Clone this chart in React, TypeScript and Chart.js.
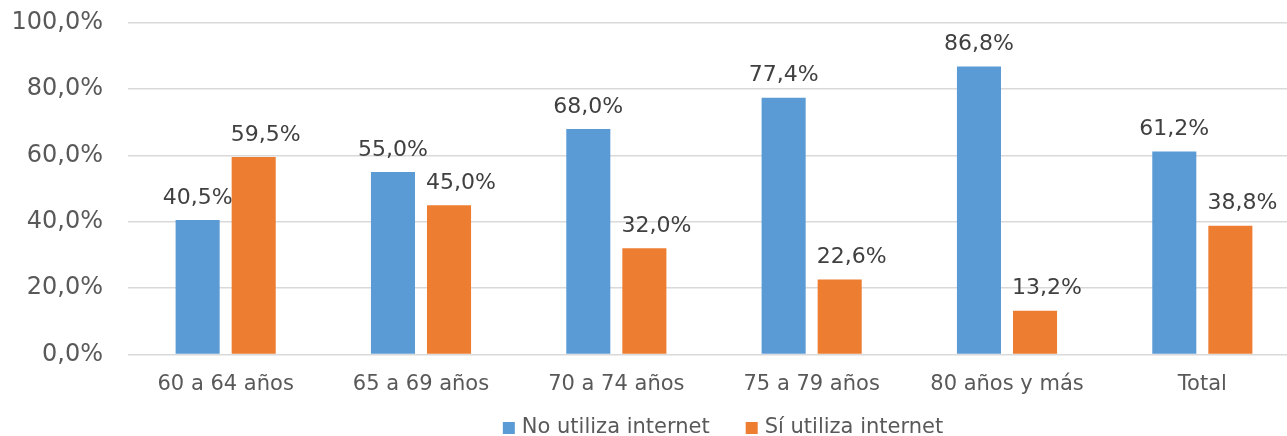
import React, { useEffect, useRef } from "react";
import { Chart, registerables } from "chart.js";

Chart.register(...registerables);

const categories = ["60 a 64 años", "65 a 69 años", "70 a 74 años", "75 a 79 años", "80 años y más", "Total"];
const noUtiliza = [40.5, 55.0, 68.0, 77.4, 86.8, 61.2];
const siUtiliza = [59.5, 45.0, 32.0, 22.6, 13.2, 38.8];
const seriesNames = ["No utiliza internet", "Sí utiliza internet"];
const seriesColors = ["#5B9BD5", "#ED7D31"];
const yMin = 0;
const yMax = 100;
const yStep = 20;

const FONT = "'DejaVu Sans', Verdana, sans-serif";

const fmt = (v: number) => v.toFixed(1).replace(".", ",") + "%";

const dataLabelPlugin = {
  id: "dataLabels",
  afterDatasetsDraw(chart: any) {
    const ctx = chart.ctx;
    ctx.save();
    ctx.font = `22px ${FONT}`;
    ctx.fillStyle = "#404040";
    ctx.textAlign = "center";
    ctx.textBaseline = "middle";
    chart.data.datasets.forEach((ds: any, di: number) => {
      const meta = chart.getDatasetMeta(di);
      meta.data.forEach((bar: any, i: number) => {
        const shift = di === 1 ? 12 : 0;
        ctx.fillText(fmt(ds.data[i]), bar.x + shift, bar.y - 22);
      });
    });
    ctx.restore();
  },
};

const legendPlugin = {
  id: "customLegend",
  afterDraw(chart: any) {
    const ctx = chart.ctx;
    const { chartArea } = chart;
    ctx.save();
    ctx.font = `21px ${FONT}`;
    ctx.textBaseline = "middle";
    ctx.textAlign = "left";
    const box = 12;
    const gapBoxText = 7;
    const gapItems = 36;
    const widths = seriesNames.map((n) => ctx.measureText(n).width);
    const total = widths.reduce((a, w) => a + box + gapBoxText + w, 0) + gapItems * (seriesNames.length - 1);
    let x = (chartArea.left + chartArea.right) / 2 + 9 - total / 2;
    const y = 428;
    seriesNames.forEach((n, i) => {
      ctx.fillStyle = seriesColors[i];
      ctx.fillRect(x, y - box / 2, box, box);
      ctx.fillStyle = "#595959";
      ctx.fillText(n, x + box + gapBoxText, y);
      x += box + gapBoxText + widths[i] + gapItems;
    });
    ctx.restore();
  },
};

export default function App() {
  const ref = useRef<HTMLCanvasElement | null>(null);
  useEffect(() => {
    if (!ref.current) return;
    const chart = new Chart(ref.current, {
      type: "bar",
      data: {
        labels: categories,
        datasets: [
          {
            label: seriesNames[0],
            data: noUtiliza,
            backgroundColor: seriesColors[0],
            categoryPercentage: 0.574,
            barPercentage: 0.786,
          },
          {
            label: seriesNames[1],
            data: siUtiliza,
            backgroundColor: seriesColors[1],
            categoryPercentage: 0.574,
            barPercentage: 0.786,
          },
        ],
      },
      options: {
        animation: false,
        responsive: false,
        devicePixelRatio: 1,
        layout: { padding: { top: 22.7, bottom: 0, left: 0, right: 0 } },
        plugins: {
          legend: { display: false },
          tooltip: { enabled: false },
          title: { display: false },
        },
        scales: {
          x: {
            grid: { display: false, drawTicks: false },
            border: { display: false },
            ticks: {
              color: "#595959",
              font: { family: FONT, size: 21 },
              padding: 17,
              maxRotation: 0,
              autoSkip: false,
            },
            afterFit: (scale: any) => {
              scale.height = 81.5;
              scale.paddingLeft = 0;
              scale.paddingRight = 0;
            },
          },
          y: {
            min: yMin,
            max: yMax,
            grid: { color: "#D9D9D9", lineWidth: 1.5, drawTicks: false },
            border: { display: false },
            ticks: {
              stepSize: yStep,
              color: "#595959",
              font: { family: FONT, size: 24 },
              padding: 25,
              callback: (v: any) => fmt(Number(v)),
            },
            afterFit: (scale: any) => {
              scale.width = 128;
              scale.paddingTop = 0;
              scale.paddingBottom = 0;
            },
          },
        },
      },
      plugins: [dataLabelPlugin, legendPlugin],
    });
    return () => chart.destroy();
  }, []);
  return (
    <div
      style={{
        position: "absolute",
        left: 0,
        top: 0,
        width: 1287,
        height: 436,
        overflow: "hidden",
        background: "#fff",
      }}
    >
      <canvas ref={ref} width={1300} height={436} style={{ width: 1300, height: 436, display: "block" }} />
    </div>
  );
}
